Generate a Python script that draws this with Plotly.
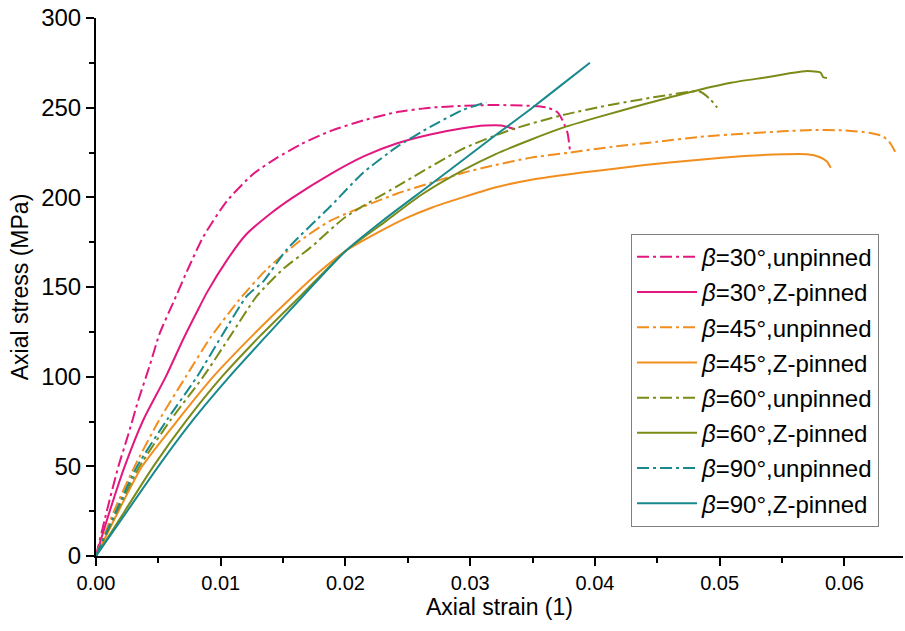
import plotly.graph_objects as go

# ---------------- data ----------------
x30u = [0, 0.0009, 0.0018, 0.0026, 0.0034, 0.0043, 0.0051, 0.0063, 0.0075, 0.0086, 0.0105, 0.0126,
        0.0145, 0.0164, 0.0188, 0.0215, 0.0241, 0.0268, 0.0294, 0.0320, 0.0348, 0.0362, 0.0370,
        0.0374, 0.0378, 0.0380]
y30u = [0, 26, 50, 68, 87, 106, 124, 143, 162, 178, 198, 213,
        222, 229.5, 237, 243, 247.5, 250, 251, 251.5, 251, 250, 247.5,
        243, 236, 226]

x30p = [0, 0.0011, 0.0023, 0.0038, 0.0056, 0.0070, 0.0083, 0.0089, 0.0105, 0.0120, 0.0140, 0.0158,
        0.0188, 0.0215, 0.0241, 0.0268, 0.0294, 0.0312, 0.0325, 0.0336]
y30p = [0, 25, 50, 76, 100, 121, 139, 147, 165, 179, 191, 200,
        213, 223, 230, 235, 238.5, 240, 240, 238]

x45u = [0, 0.0015, 0.0031, 0.0050, 0.0072, 0.0092, 0.0115, 0.0137, 0.0164, 0.0188, 0.0215, 0.0241,
        0.0268, 0.0294, 0.0320, 0.0348, 0.0380, 0.0412, 0.0450, 0.0484, 0.0520, 0.0550, 0.0575,
        0.0600, 0.0620, 0.0631, 0.0637, 0.0641]
y45u = [0, 26, 50, 75, 100, 122, 143, 160, 176, 187, 195, 202,
        208, 213.6, 218, 222, 225, 228, 231, 233.7, 235.5, 236.8, 237.6,
        237.3, 236, 234, 230, 225]

x45p = [0, 0.0018, 0.0037, 0.0067, 0.0094, 0.0127, 0.0158, 0.0180, 0.0200, 0.0225, 0.0249, 0.0270,
        0.0294, 0.0320, 0.0348, 0.0375, 0.0404, 0.0440, 0.0484, 0.0520, 0.0551, 0.0570, 0.0580,
        0.0586, 0.0589]
y45p = [0, 25, 50, 77, 100, 124, 145, 159, 170, 180, 188.5, 194.5,
        200, 205.5, 209.7, 212.5, 215, 218, 221, 223, 224, 224, 222.5,
        220, 216.5]

x60u = [0, 0.0017, 0.0035, 0.0060, 0.0086, 0.0108, 0.0129, 0.0150, 0.0172, 0.0200, 0.0241, 0.0294,
        0.0334, 0.0375, 0.0412, 0.0458, 0.0484, 0.0492, 0.0498]
y60u = [0, 25, 50, 76, 100, 123, 145, 160, 172, 189, 206, 227,
        238, 246, 251.5, 257, 259, 255, 250]

x60p = [0, 0.0023, 0.0046, 0.0073, 0.0101, 0.0132, 0.0164, 0.0200, 0.0233, 0.0260, 0.0294, 0.0320,
        0.0348, 0.0375, 0.0404, 0.0440, 0.0484, 0.0510, 0.0538, 0.0555, 0.0570, 0.0578, 0.0581,
        0.0583, 0.0586]
y60p = [0, 25, 50, 76, 100, 123, 145, 170, 187, 201, 215, 224,
        232, 239, 245, 252, 260, 264, 267, 269, 270.5, 270, 269.5,
        267, 266.5]

x90u = [0, 0.0016, 0.0033, 0.0057, 0.0081, 0.0101, 0.0121, 0.0134, 0.0153, 0.0188, 0.0214, 0.0241,
        0.0268, 0.0294, 0.0313]
y90u = [0, 25, 50, 76, 100, 123, 145, 153, 171, 195, 213.6, 228,
        239.3, 248.7, 253]

x90p = [0, 0.0025, 0.0050, 0.0078, 0.0107, 0.0137, 0.0166, 0.0200, 0.0228, 0.0268, 0.0321, 0.0348,
        0.0372, 0.0396]
y90p = [0, 25, 50, 76, 100, 123, 145, 170, 186, 207, 235, 249,
        262, 275]

series = [
    ("<i>β</i>=30°,unpinned", x30u, y30u, "#E2187F", "dash"),
    ("<i>β</i>=30°,Z-pinned", x30p, y30p, "#E2187F", "solid"),
    ("<i>β</i>=45°,unpinned", x45u, y45u, "#F28E1E", "dash"),
    ("<i>β</i>=45°,Z-pinned", x45p, y45p, "#F28E1E", "solid"),
    ("<i>β</i>=60°,unpinned", x60u, y60u, "#7C8B18", "dash"),
    ("<i>β</i>=60°,Z-pinned", x60p, y60p, "#7C8B18", "solid"),
    ("<i>β</i>=90°,unpinned", x90u, y90u, "#18898C", "dash"),
    ("<i>β</i>=90°,Z-pinned", x90p, y90p, "#18898C", "solid"),
]

x_ticks = [0.00, 0.01, 0.02, 0.03, 0.04, 0.05, 0.06]
x_ticklabels = ["0.00", "0.01", "0.02", "0.03", "0.04", "0.05", "0.06"]
y_ticks = [0, 50, 100, 150, 200, 250, 300]

FONT = "Liberation Sans, Arial, sans-serif"

fig = go.Figure()
for i, (name, xs, ys, col, sty) in enumerate(series):
    fig.add_trace(go.Scatter(
        x=xs, y=ys, mode="lines", name=name, legendgroup=f"g{i}",
        line=dict(color=col, width=2, shape="spline", smoothing=0.6,
                  dash="12px,4px,3px,4px" if sty == "dash" else "solid"),
    ))

fig.update_layout(
    width=905, height=631,
    margin=dict(l=96, r=2, t=18, b=75),
    paper_bgcolor="white", plot_bgcolor="white",
    font=dict(family=FONT, color="black"),
    showlegend=True,
    legend=dict(
        x=0.663, y=0.599, xanchor="left", yanchor="top",
        bgcolor="white", bordercolor="#808080", borderwidth=1,
        font=dict(size=24, family=FONT, color="black"),
        tracegroupgap=1, itemwidth=60,
    ),
    xaxis=dict(
        range=[0, 0.0647], tickvals=x_ticks, ticktext=x_ticklabels, automargin=False,
        showline=True, linecolor="black", linewidth=2, showgrid=False, zeroline=False,
        ticks="outside", ticklen=8, tickwidth=2, tickcolor="black",
        tickfont=dict(size=20, family=FONT),
        minor=dict(dtick=0.005, ticks="outside", ticklen=5, tickwidth=2, tickcolor="black", showgrid=False),
        title=dict(text="Axial strain (1)", font=dict(size=23, family=FONT), standoff=6),
    ),
    yaxis=dict(
        range=[0, 300], tickvals=y_ticks, automargin=False,
        showline=True, linecolor="black", linewidth=2, showgrid=False, zeroline=False,
        ticks="outside", ticklen=8, tickwidth=2, tickcolor="black",
        tickfont=dict(size=24, family=FONT),
        minor=dict(dtick=25, ticks="outside", ticklen=5, tickwidth=2, tickcolor="black", showgrid=False),
        title=dict(text="Axial stress (MPa)", font=dict(size=23, family=FONT), standoff=6),
    ),
)

# remove the default 8px page margin so the 905x631 figure fills the window exactly
fig.write_html("out.html",
               config={"displayModeBar": False},
               post_script="document.body.style.margin='0px';document.body.style.overflow='hidden';")
